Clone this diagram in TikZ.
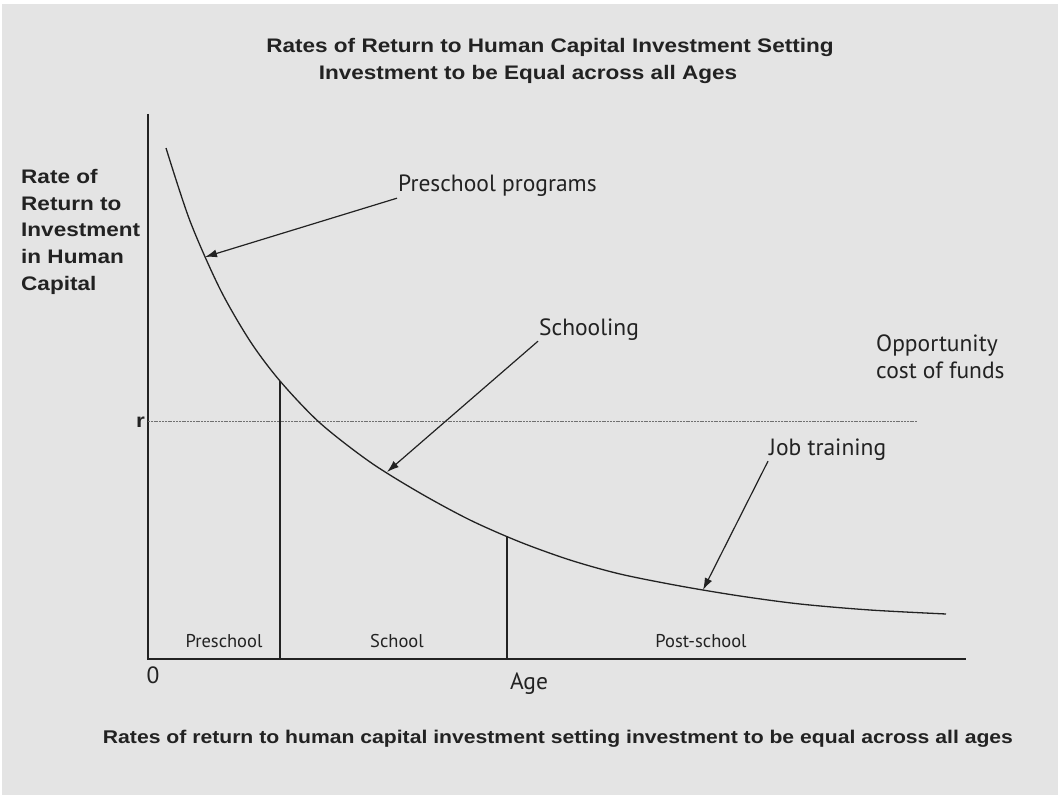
\documentclass[tikz,border=0pt]{standalone}
\usepackage{fontspec}
\setmainfont{Liberation Sans}
\newfontfamily\headfont[FakeStretch=1.15]{Liberation Sans}
\newfontfamily\curvefont{PT Sans}
\usetikzlibrary{arrows.meta}

\definecolor{bggray}{HTML}{E4E4E4}
\definecolor{rgray}{HTML}{707070}
\definecolor{ink}{HTML}{222222}

\tikzset{
  head/.style={font=\headfont\bfseries\fontsize{19.6}{26.7}\selectfont, text=ink},
  caption/.style={font=\headfont\bfseries\fontsize{18.4}{22}\selectfont, text=ink},
  tag/.style={font=\curvefont\fontsize{23.5}{27}\selectfont, text=ink, inner sep=1pt},
  period/.style={font=\curvefont\fontsize{18.5}{22}\selectfont, text=ink},
  axis/.style={draw=ink, line width=1.7pt},
  curve/.style={draw=ink, line width=1.3pt},
  divider/.style={draw=ink, line width=1.2pt},
  oppline/.style={draw=rgray, line width=1.8pt, dash pattern=on 2pt off 0.8pt},
  pointer/.style={draw=ink, line width=1.2pt, -{Latex[length=12pt,width=8pt]}}
}

\begin{document}
\begin{tikzpicture}[x=1pt,y=-1pt]
    \useasboundingbox (0,0) rectangle (1058,797);
    \fill[white] (0,0) rectangle (1058,797);
    \fill[bggray] (2,4) rectangle (1058,795);

    % titles
    \node[head] at (550,47) (title1) {Rates of Return to Human Capital Investment Setting};
    \node[head] at (528,74) (title2) {Investment to be Equal across all Ages};
    \node[caption] at (558,739) (caption) {Rates of return to human capital investment setting investment to be equal across all ages};

    % axes
    \coordinate (O) at (148,659);
    \coordinate (ytop) at (148,114);
    \coordinate (xend) at (966,659);
    \draw[axis] (ytop) -- (O) -- (xend);
    \node[head, align=left, anchor=north west, inner sep=0pt] at (21,169) (ylab) {Rate of\\Return to\\Investment\\in Human\\Capital};
    \node[tag, anchor=base] at (153,683) (zero) {0};
    \node[tag, anchor=base] at (529,689) (age) {Age};

    % opportunity cost of funds
    \coordinate (rleft) at (148,421.5);
    \coordinate (rright) at (917,421.5);
    \draw[oppline] (rleft) -- (rright);
    \node[head, anchor=base east, inner sep=0pt] at (145,427) (r) {r};
    \node[tag, align=left, anchor=base west, inner sep=0pt] at (876,378) (opp) {Opportunity\\cost of funds};

    % rate of return curve
    \draw[curve] plot[smooth] coordinates {(166,148) (190,221) (220,289) (250,341) (280,381)
        (320,423) (370,462) (420,493) (470,520) (520,542) (570,560) (620,574) (680,586)
        (740,596) (800,604) (870,610) (946,614)};

    % age periods
    \coordinate (cut1) at (280,381);
    \coordinate (base1) at (280,659);
    \coordinate (cut2) at (507,537);
    \coordinate (base2) at (507,659);
    \draw[divider] (cut1) -- (base1);
    \draw[divider] (cut2) -- (base2);
    \node[period, anchor=base] at (224,647) (pre) {Preschool};
    \node[period, anchor=base] at (397,647) (sch) {School};
    \node[period, anchor=base] at (701,647) (post) {Post-school};

    % programme labels
    \coordinate (preTip) at (205,257);
    \coordinate (schTip) at (387,472);
    \coordinate (jobTip) at (703,590);
    \node[tag, anchor=base west] at (397,192) (preprog) {Preschool programs};
    \node[tag, anchor=base west] at (538,335) (schooling) {Schooling};
    \node[tag, anchor=base west] at (768,455) (job) {Job training};
    \draw[pointer] (preprog.south west) -- (preTip);
    \draw[pointer] (schooling.south west) -- (schTip);
    \draw[pointer] (job.south west) -- (jobTip);
\end{tikzpicture}
\end{document}
